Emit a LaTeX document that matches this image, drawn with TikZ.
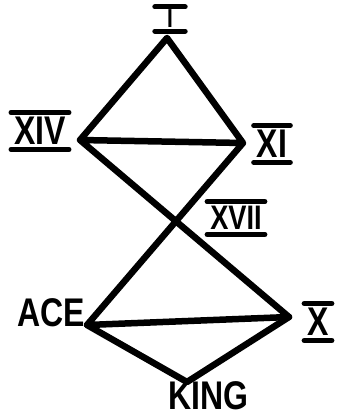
\documentclass[tikz,border=0pt]{standalone}
\usepackage{fontspec}
\usepackage{graphicx}
\setmainfont{Liberation Sans}
\newcommand\narrowtxt[1]{\scalebox{0.8}[1]{#1}}
\begin{document}
\begin{tikzpicture}[x=1pt,y=-1pt,
  edge/.style={line width=6.5pt,line cap=round,line join=round},
  lbl/.style={font=\fontsize{40}{40}\selectfont\bfseries,inner sep=0pt,text depth=0pt},
  rom/.style={lbl,inner xsep=3pt,inner ysep=4.5pt},
  bar/.style={line width=5pt,line cap=round}]
\useasboundingbox (0,0) rectangle (337,419);
% vertices
\coordinate (top) at (167,38);
\coordinate (xiv) at (80,140);
\coordinate (xi) at (243,143);
\coordinate (ace) at (87,325);
\coordinate (x) at (289,317);
\coordinate (king) at (187,382);
% edges
\draw[edge] (xiv) -- (top) -- (xi) -- (xiv) -- (x) -- (ace) -- (xi);
\draw[edge] (ace) -- (king) -- (x);
% labels
\node[rom,font=\fontsize{26}{26}\selectfont\bfseries,minimum width=30pt,inner ysep=3pt] (lI) at (170,19) {\narrowtxt{I}};
\node[rom] (lXIV) at (40,131) {\narrowtxt{XIV}};
\node[rom] (lXI) at (272,144) {\narrowtxt{XI}};
\node[rom,font=\fontsize{34}{34}\selectfont\bfseries] (lXVII) at (236,218) {\narrowtxt{XVII}};
\node[rom] (lX) at (318,322) {\narrowtxt{X}};
\node[lbl] (lACE) at (51,313) {\narrowtxt{ACE}};
\node[lbl] (lKING) at (208,396) {\narrowtxt{KING}};
\foreach \n in {lI,lXIV,lXI,lXVII,lX}{
  \draw[bar] (\n.north west) -- (\n.north east);
  \draw[bar] (\n.south west) -- (\n.south east);
}
\end{tikzpicture}
\end{document}
